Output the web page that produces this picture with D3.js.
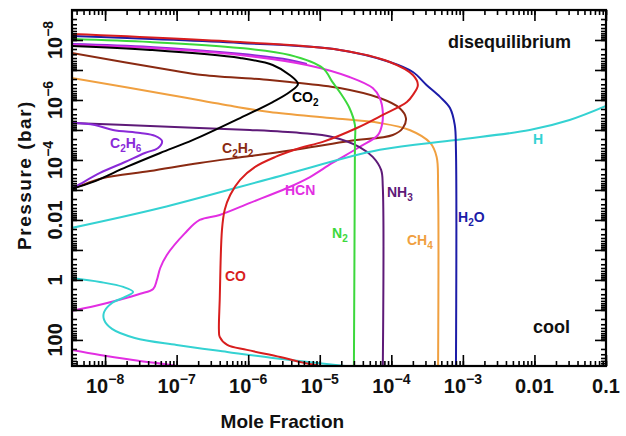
<!DOCTYPE html>
<html>
<head>
<meta charset="utf-8">
<script src="https://cdn.jsdelivr.net/npm/d3@7"></script>
<style>
  html, body { margin: 0; padding: 0; background: #fff; }
  svg { display: block; font-family: "Liberation Sans", Arial, Helvetica, sans-serif; font-weight: bold; }
</style>
</head>
<body>
<div id="chart"></div>
<script>
// Axis ranges (mole fraction, pressure in bar)
const xDomain = [3.45e-9, 0.1];
const pDomain = [1e-9, 740];

// Tick labels
const xTicks = [1e-8, 1e-7, 1e-6, 1e-5, 1e-4, 1e-3, 0.01, 0.1];
const xTickLabels = [['10', '−8'], ['10', '−7'], ['10', '−6'], ['10', '−5'], ['10', '−4'], ['10', '−3'], ['0.01', ''], ['0.1', '']];
const pTicks = [1e-8, 1e-6, 1e-4, 0.01, 1, 100];
const pTickLabels = [['10', '−8'], ['10', '−6'], ['10', '−4'], ['0.01', ''], ['1', ''], ['100', '']];

// Profiles: [mole fraction, pressure]
const h2o = [[3.4e-9, 7.4e-9], [7.7e-7, 1.26e-8], [1.9e-5, 2.15e-8], [9.5e-5, 5.4e-8], [2.0e-4, 1.17e-7],
  [3.1e-4, 3.16e-7], [4.8e-4, 7.9e-7], [6.6e-4, 1.85e-6], [7.7e-4, 6.8e-6], [8.0e-4, 4.6e-5], [8.0e-4, 1000]];
const co = [[3.4e-9, 6.3e-9], [7.7e-7, 1.17e-8], [1.9e-5, 2.15e-8], [9.5e-5, 5.4e-8], [2.0e-4, 1.47e-7],
  [2.35e-4, 3.16e-7], [2.0e-4, 6.8e-7], [1.65e-4, 1.17e-6], [7.6e-5, 3.16e-6], [3.3e-5, 8.6e-6],
  [1.1e-5, 2.5e-5], [5.3e-6, 4.0e-5], [2.4e-6, 7.9e-5], [1.25e-6, 1.7e-4], [7.7e-7, 4.6e-4],
  [5.6e-7, 1.47e-3], [4.7e-7, 4.6e-3], [4.3e-7, 0.0215], [4.0e-7, 4.6], [3.9e-7, 46], [4.0e-7, 79],
  [5.1e-7, 147], [9.6e-7, 215], [2.8e-6, 369], [5.3e-6, 541], [1.0e-5, 736], [1.2e-5, 800]];
const n2 = [[3.4e-9, 9.3e-9], [4.25e-8, 1.17e-8], [7.7e-7, 1.85e-8], [3.8e-6, 3.16e-8], [1.1e-5, 8.6e-8],
  [1.5e-5, 2.5e-7], [1.9e-5, 5.4e-7], [2.6e-5, 1.85e-6], [3.1e-5, 6.8e-6], [3.1e-5, 3.2e-5], [3.0e-5, 1000]];
const ch4 = [[3.4e-9, 1.85e-7], [8.1e-8, 6.8e-7], [7.0e-7, 1.71e-6], [2.0e-6, 2.5e-6], [1.4e-5, 4.0e-6],
  [6.9e-5, 5.85e-6], [1.8e-4, 1e-5], [3.5e-4, 2.7e-5], [4.3e-4, 7.9e-5], [4.5e-4, 7.9e-4], [4.5e-4, 1000]];
const nh3 = [[3.4e-9, 5.85e-6], [4.25e-8, 7.4e-6], [1.06e-6, 1e-5], [5.3e-6, 1.26e-5], [1.5e-5, 1.71e-5],
  [3.6e-5, 3.7e-5], [5.5e-5, 7.9e-5], [7.2e-5, 2.15e-4], [7.6e-5, 7.9e-4], [7.6e-5, 1000]];
const c2h6 = [[3.4e-9, 5.85e-6], [7.2e-9, 6.8e-6], [1.29e-8, 1e-5], [3.1e-8, 1.26e-5], [5.0e-8, 1.58e-5],
  [6.25e-8, 2.33e-5], [5.5e-8, 4.0e-5], [3.6e-8, 5.85e-5], [1.9e-8, 1.17e-4], [8.5e-9, 2.7e-4],
  [4.5e-9, 6.3e-4], [3.4e-9, 9.3e-4]];
const c2h6Top = [[3.4e-9, 1.36e-8], [4.25e-8, 1.71e-8], [7.7e-7, 2.9e-8], [3.8e-6, 4.64e-8], [6.6e-6, 6.3e-8]];
const co2 = [[3.4e-9, 1.58e-8], [4.25e-8, 2.15e-8], [7.7e-7, 4.0e-8], [2.2e-6, 6.8e-8], [3.8e-6, 1.47e-7],
  [4.96e-6, 2.93e-7], [3.8e-6, 5.4e-7], [2.2e-6, 1.17e-6], [7.7e-7, 4.0e-6], [1.7e-7, 2.15e-5],
  [5.9e-8, 5.85e-5], [2.0e-8, 1.71e-4], [6.8e-9, 5.4e-4], [3.4e-9, 9.3e-4]];
const c2h2 = [[3.4e-9, 2.7e-8], [8.1e-8, 1e-7], [2.3e-7, 1.47e-7], [2.0e-6, 2.15e-7], [3.8e-6, 2.5e-7],
  [1.9e-5, 4.0e-7], [6.9e-5, 8.6e-7], [1.3e-4, 1.85e-6], [1.6e-4, 4.0e-6], [1.45e-4, 8.6e-6],
  [1.05e-4, 1.47e-5], [2.6e-5, 2.33e-5], [5.3e-6, 4.3e-5], [1.06e-6, 7.4e-5], [2.1e-7, 1.26e-4],
  [4.25e-8, 2.33e-4], [9.4e-9, 4.0e-4], [5.3e-9, 6.3e-4], [3.4e-9, 9.3e-4]];
const hcn = [[3.4e-9, 1.47e-8], [4.25e-8, 1.85e-8], [7.7e-7, 3.16e-8], [6.6e-6, 6.8e-8], [2.6e-5, 1.71e-7],
  [5.5e-5, 4.0e-7], [6.9e-5, 8.6e-7], [7.6e-5, 2.5e-6], [7.4e-5, 6.8e-6], [6.5e-5, 1.47e-5],
  [3.6e-5, 3.7e-5], [1.5e-5, 1.26e-4], [7.3e-6, 3.7e-4], [3.5e-6, 8.6e-4], [1.06e-6, 2.7e-3],
  [4.0e-7, 6.8e-3], [2.1e-7, 0.01], [1.3e-7, 0.028], [7.3e-8, 0.147], [5.9e-8, 0.4], [5.3e-8, 1.0],
  [4.7e-8, 2.0], [3.1e-8, 2.9], [1.6e-8, 4.6], [7.2e-9, 7.4], [3.4e-9, 10.8]];
const hcnDeep = [[3.4e-9, 215], [8.5e-9, 316], [2.46e-8, 464], [1.0e-7, 736], [1.2e-7, 800]];
const h = [[3.4e-9, 0.0185], [5.9e-8, 4e-3], [2.8e-6, 3.4e-4], [6.9e-5, 4.6e-5], [8.0e-4, 2.15e-5],
  [8.6e-3, 1e-5], [3.1e-2, 4.64e-6], [0.1, 1.58e-6]];
const hDeep = [[3.4e-9, 0.86], [8.5e-9, 1.17], [1.8e-8, 1.71], [2.46e-8, 2.5], [1.9e-8, 3.7],
  [1.25e-8, 5.85], [9.7e-9, 11.7], [9.7e-9, 21.5], [1.25e-8, 43], [2.6e-8, 86], [1.0e-7, 147],
  [5.1e-7, 251], [2.2e-6, 398], [2.25e-5, 736], [3.0e-5, 800]];

const colors = {
  H2O: '#1c1ca8', CO: '#d81e1e', N2: '#3cd83c', CH4: '#f0a040', NH3: '#5e1a78',
  C2H6: '#8a2ad8', CO2: '#000000', C2H2: '#8a2a12', HCN: '#e22ee2', H: '#34d2d2'
};

// drawing order (last on top)
const series = [
  { name: 'C2H6', data: c2h6Top },
  { name: 'CH4', data: ch4 },
  { name: 'C2H2', data: c2h2 },
  { name: 'HCN', data: hcn },
  { name: 'HCN', data: hcnDeep },
  { name: 'NH3', data: nh3 },
  { name: 'C2H6', data: c2h6 },
  { name: 'CO2', data: co2 },
  { name: 'N2', data: n2 },
  { name: 'H', data: h },
  { name: 'H', data: hDeep },
  { name: 'H2O', data: h2o },
  { name: 'CO', data: co }
];

// curve labels: [parts, colour key, x, y] - parts alternate normal / subscript
const labels = [
  { parts: ['CO', '2'], key: 'CO2', x: 292, y: 102 },
  { parts: ['C', '2', 'H', '6'], key: 'C2H6', x: 110, y: 148 },
  { parts: ['C', '2', 'H', '2'], key: 'C2H2', x: 222, y: 153 },
  { parts: ['HCN'], key: 'HCN', x: 285, y: 195 },
  { parts: ['NH', '3'], key: 'NH3', x: 387, y: 197 },
  { parts: ['N', '2'], key: 'N2', x: 332, y: 238 },
  { parts: ['CH', '4'], key: 'CH4', x: 407, y: 245 },
  { parts: ['H', '2', 'O'], key: 'H2O', x: 458, y: 222 },
  { parts: ['CO'], key: 'CO', x: 225, y: 281 },
  { parts: ['H'], key: 'H', x: 533, y: 144 }
];

const W = 626, H = 436;
const margin = { top: 10, right: 20, bottom: 70, left: 72 };
const width = W - margin.left - margin.right;
const height = H - margin.top - margin.bottom;

const svg = d3.select('#chart').append('svg').attr('width', W).attr('height', H);
const g = svg.append('g').attr('transform', `translate(${margin.left},${margin.top})`);

const x = d3.scaleLog().domain(xDomain).range([0, width]);
const y = d3.scaleLog().domain(pDomain).range([0, height]);

svg.append('defs').append('clipPath').attr('id', 'plot-clip')
  .append('rect').attr('width', width).attr('height', height);

// curves
const line = d3.line()
  .x((d) => x(d[0]))
  .y((d) => y(d[1]))
  .curve(d3.curveCatmullRom.alpha(0.5));

g.append('g').attr('clip-path', 'url(#plot-clip)')
  .selectAll('path')
  .data(series)
  .enter()
  .append('path')
  .attr('d', (d) => line(d.data))
  .attr('fill', 'none')
  .attr('stroke', (d) => colors[d.name])
  .attr('stroke-width', 2)
  .attr('stroke-linejoin', 'round');

// ticks
function minorTicks(domain) {
  const out = [];
  const lo = Math.floor(Math.log10(domain[0])), hi = Math.ceil(Math.log10(domain[1]));
  for (let e = lo; e <= hi; e++) {
    for (let m = 1; m <= 9; m++) {
      const v = m * Math.pow(10, e);
      if (v >= domain[0] && v <= domain[1]) out.push(v);
    }
  }
  return out;
}
const xMinor = minorTicks(xDomain);
const pMinor = minorTicks(pDomain);
const pDecades = pMinor.filter((v) => Math.abs(Math.log10(v) - Math.round(Math.log10(v))) < 1e-9);

function styleAxis(sel) {
  sel.select('.domain').remove();
  sel.selectAll('line').attr('stroke', '#000').attr('stroke-width', 1.6);
}

g.append('g').attr('transform', `translate(0,${height})`)
  .call(d3.axisBottom(x).tickValues(xMinor).tickSize(-5).tickFormat('')).call(styleAxis);
g.append('g').attr('transform', `translate(0,${height})`)
  .call(d3.axisBottom(x).tickValues(xTicks).tickSize(-11).tickFormat('')).call(styleAxis);
g.append('g')
  .call(d3.axisTop(x).tickValues(xMinor).tickSize(-5).tickFormat('')).call(styleAxis);
g.append('g')
  .call(d3.axisTop(x).tickValues(xTicks).tickSize(-11).tickFormat('')).call(styleAxis);

g.append('g')
  .call(d3.axisLeft(y).tickValues(pMinor).tickSize(-5).tickFormat('')).call(styleAxis);
g.append('g')
  .call(d3.axisLeft(y).tickValues(pDecades).tickSize(-11).tickFormat('')).call(styleAxis);
g.append('g').attr('transform', `translate(${width},0)`)
  .call(d3.axisRight(y).tickValues(pMinor).tickSize(-5).tickFormat('')).call(styleAxis);
g.append('g').attr('transform', `translate(${width},0)`)
  .call(d3.axisRight(y).tickValues(pDecades).tickSize(-11).tickFormat('')).call(styleAxis);

// frame
g.append('rect').attr('width', width).attr('height', height)
  .attr('fill', 'none').attr('stroke', '#000').attr('stroke-width', 2.2);

// tick labels
function tickText(sel, parts) {
  sel.append('tspan').text(parts[0]);
  if (parts[1]) sel.append('tspan').attr('dy', -9).attr('font-size', 14).text(parts[1]);
}

xTicks.forEach((v, i) => {
  const t = g.append('text')
    .attr('x', x(v))
    .attr('y', height + 27)
    .attr('text-anchor', 'middle')
    .attr('font-size', 20)
    .attr('fill', '#111');
  tickText(t, xTickLabels[i]);
});

pTicks.forEach((v, i) => {
  const t = g.append('text')
    .attr('transform', `translate(-10,${y(v)}) rotate(-90)`)
    .attr('text-anchor', 'middle')
    .attr('font-size', 20)
    .attr('fill', '#111');
  tickText(t, pTickLabels[i]);
});

// axis titles
svg.append('text')
  .attr('x', margin.left + x(3e-6))
  .attr('y', 428)
  .attr('text-anchor', 'middle')
  .attr('font-size', 19)
  .attr('fill', '#111')
  .text('Mole Fraction');

svg.append('text')
  .attr('transform', `translate(31,${margin.top + 165}) rotate(-90)`)
  .attr('text-anchor', 'middle')
  .attr('font-size', 19)
  .attr('letter-spacing', 1.5)
  .attr('fill', '#111')
  .text('Pressure (bar)');

// regime annotations
svg.append('text').attr('x', 448).attr('y', 48).attr('font-size', 18).attr('fill', '#111').text('disequilibrium');
svg.append('text').attr('x', 533).attr('y', 333).attr('font-size', 18).attr('fill', '#111').text('cool');

// species labels
labels.forEach((l) => {
  const t = svg.append('text')
    .attr('x', l.x)
    .attr('y', l.y)
    .attr('font-size', 14)
    .attr('fill', colors[l.key]);
  l.parts.forEach((p, i) => {
    const sub = i % 2 === 1;
    const span = t.append('tspan').text(p);
    if (sub) span.attr('dy', 4).attr('font-size', 10);
    else if (i > 0) span.attr('dy', -4);
  });
});
</script>
</body>
</html>
